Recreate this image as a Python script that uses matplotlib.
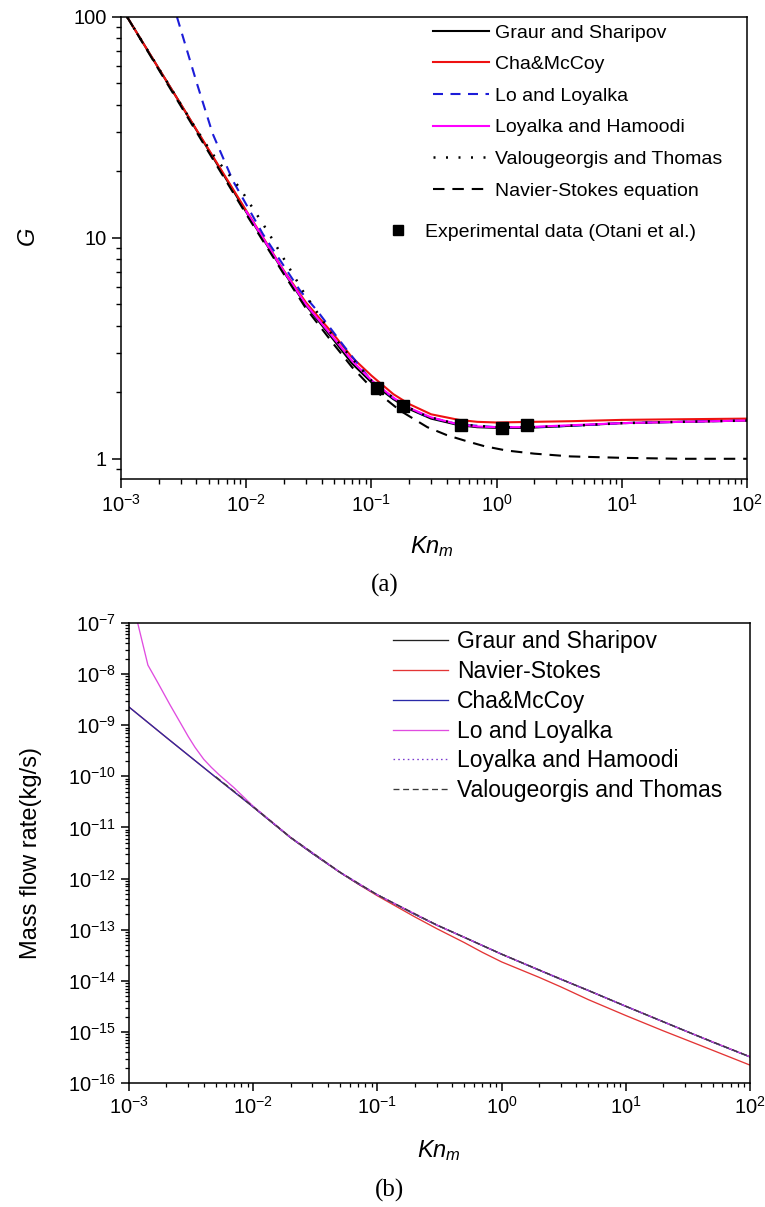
import numpy as np
import matplotlib.pyplot as plt
from matplotlib.ticker import LogLocator, NullFormatter, FixedLocator, FixedFormatter
from matplotlib.lines import Line2D

plt.rcParams['font.family'] = ['Liberation Sans', 'DejaVu Sans']
plt.rcParams['mathtext.fontset'] = 'custom'
plt.rcParams['mathtext.rm'] = 'Liberation Sans'
plt.rcParams['mathtext.it'] = 'Liberation Sans:italic'
plt.rcParams['mathtext.default'] = 'regular'
plt.rcParams['axes.unicode_minus'] = False

# ---- (a) G vs Kn_m ----
kn_gs = [1.12e-3, 2e-3, 3e-3, 5e-3, 0.01, 0.02, 0.03, 0.05, 0.07, 0.1, 0.15, 0.2, 0.3, 0.5, 0.7, 1, 1.7, 3, 10, 30, 100]
G_gs = [100, 58.5, 40.3, 25.0, 13.1, 7.0, 4.95, 3.45, 2.7, 2.22, 1.86, 1.68, 1.52, 1.42, 1.39, 1.38, 1.38, 1.40, 1.45, 1.47, 1.49]

kn_cm = [1.12e-3, 2e-3, 3e-3, 5e-3, 0.01, 0.02, 0.03, 0.05, 0.07, 0.1, 0.15, 0.2, 0.3, 0.5, 0.7, 1, 2, 4, 10, 30, 100]
G_cm = [100, 58.5, 40.3, 25.2, 13.3, 7.1, 5.1, 3.65, 2.88, 2.38, 1.96, 1.77, 1.59, 1.50, 1.47, 1.46, 1.47, 1.48, 1.50, 1.51, 1.52]

kn_ll = [2.8e-3, 4.05e-3, 5.4e-3, 7.85e-3, 0.0136, 0.027, 0.037, 0.06, 0.1, 0.17, 0.28, 0.5, 1, 2, 5, 10, 30, 100]
G_ll = [100, 49.8, 29.6, 18.1, 10.4, 5.76, 4.67, 3.25, 2.25, 1.78, 1.55, 1.43, 1.39, 1.39, 1.42, 1.45, 1.47, 1.49]

kn_lh = [0.01, 0.02, 0.03, 0.05, 0.07, 0.1, 0.15, 0.2, 0.3, 0.5, 0.7, 1, 1.7, 3, 10, 30, 100]
G_lh = [13.2, 7.05, 5.0, 3.52, 2.78, 2.27, 1.89, 1.70, 1.54, 1.43, 1.40, 1.39, 1.39, 1.41, 1.45, 1.47, 1.49]

kn_vt = [1.12e-3, 2e-3, 3e-3, 4e-3, 5.3e-3, 6.2e-3, 8.9e-3, 0.0147, 0.0283, 0.05, 0.1, 0.17, 0.28, 0.5, 1, 2, 5, 10, 30, 100]
G_vt = [100, 58.5, 40.3, 31, 24.3, 21.6, 16.8, 10.8, 5.76, 3.55, 2.26, 1.78, 1.55, 1.43, 1.39, 1.39, 1.42, 1.45, 1.47, 1.49]

kn_ns = [1.12e-3, 2e-3, 3e-3, 5e-3, 0.01, 0.02, 0.03, 0.05, 0.07, 0.1, 0.17, 0.28, 0.4, 0.58, 0.8, 1.2, 2, 3.9, 10, 30, 100]
G_ns = [100, 57.8, 39.6, 24.5, 12.8, 6.85, 4.8, 3.3, 2.6, 2.1, 1.65, 1.39, 1.28, 1.2, 1.14, 1.09, 1.055, 1.025, 1.01, 1.0, 1.0]

kn_exp = [0.111, 0.179, 0.52, 1.10, 1.75]
G_exp = [2.1, 1.74, 1.42, 1.38, 1.42]

# ---- (b) mass flow rate vs Kn_m ----
kn_b = [1e-3, 2e-3, 5e-3, 0.01, 0.02, 0.03, 0.05, 0.07, 0.1, 0.2, 0.3, 0.5, 0.7, 1, 2, 3, 5, 10, 20, 50, 100]
m_cm = [2.27e-9, 5.75e-10, 9.55e-11, 2.51e-11, 6.31e-12, 3.1e-12, 1.32e-12, 7.9e-13, 4.79e-13, 2.0e-13,
        1.23e-13, 7.08e-14, 4.9e-14, 3.31e-14, 1.62e-14, 1.07e-14, 6.46e-15, 3.16e-15, 1.58e-15, 6.31e-16, 3.24e-16]
m_ns = [2.27e-9, 5.75e-10, 9.55e-11, 2.51e-11, 6.31e-12, 3.1e-12, 1.32e-12, 7.8e-13, 4.6e-13, 1.78e-13,
        1.05e-13, 5.6e-14, 3.6e-14, 2.34e-14, 1.17e-14, 7.6e-15, 4.27e-15, 2.09e-15, 1.05e-15, 4.37e-16, 2.24e-16]

kn_gs_b = [0.01, 0.02, 0.03, 0.05, 0.07, 0.1, 0.2, 0.3, 0.5, 0.7, 1, 2, 3, 5, 10, 20, 50, 100]
m_gs = [2.51e-11, 6.31e-12, 3.1e-12, 1.32e-12, 7.9e-13, 4.8e-13, 2.0e-13, 1.23e-13, 7.1e-14, 4.9e-14,
        3.31e-14, 1.62e-14, 1.07e-14, 6.46e-15, 3.16e-15, 1.58e-15, 6.31e-16, 3.24e-16]

kn_lo = [1e-3, 1.42e-3, 1.7e-3, 2.14e-3, 2.6e-3, 3.0e-3, 3.4e-3, 4e-3, 4.6e-3, 5.3e-3, 7e-3, 0.01, 0.02, 0.05,
         0.1, 0.3, 1, 3, 10, 30, 100]
m_lo = [5e-7, 1.5e-8, 6.9e-9, 2.5e-9, 1.1e-9, 6.0e-10, 3.7e-10, 2.15e-10, 1.5e-10, 1.08e-10, 6.0e-11, 2.6e-11,
        6.4e-12, 1.33e-12, 4.8e-13, 1.24e-13, 3.32e-14, 1.08e-14, 3.18e-15, 1.05e-15, 3.26e-16]

kn_lh_b = [6e-3, 0.01, 0.02, 0.05, 0.1, 0.3, 1, 3, 10, 30, 100]
m_lh = [6.8e-11, 2.55e-11, 6.4e-12, 1.33e-12, 4.8e-13, 1.24e-13, 3.32e-14, 1.08e-14, 3.18e-15, 1.05e-15, 3.26e-16]

kn_vt_b = [5e-3, 0.01, 0.02, 0.05, 0.1, 0.3, 1, 3, 10, 30, 100]
m_vt = [9.8e-11, 2.55e-11, 6.4e-12, 1.33e-12, 4.8e-13, 1.24e-13, 3.32e-14, 1.08e-14, 3.18e-15, 1.05e-15, 3.26e-16]

fig = plt.figure(figsize=(7.65, 12.07), dpi=100)

# ================= panel (a) =================
ax1 = fig.add_axes([121/765, 1-479/1207, 626/765, 462/1207])
lw = 1.5
ax1.plot(kn_gs, G_gs, color='black', lw=lw, label='Graur and Sharipov')
ax1.plot(kn_cm, G_cm, color='#ee1111', lw=lw, label='Cha&McCoy')
ax1.plot(kn_ll, G_ll, color='#1c1cd8', lw=lw, dashes=(4.8, 3.6), label='Lo and Loyalka')
ax1.plot(kn_lh, G_lh, color='#ff00ff', lw=lw, label='Loyalka and Hamoodi')
ax1.plot(kn_vt, G_vt, color='black', lw=lw + 0.3, dashes=(0.8, 4.2), label='Valougeorgis and Thomas')
ax1.plot(kn_ns, G_ns, color='black', lw=lw, dashes=(5.5, 3.8), label='Navier-Stokes equation')
ax1.plot(kn_exp, G_exp, 's', color='black', ms=8, label='Experimental data (Otani et al.)')

ax1.set_xscale('log')
ax1.set_yscale('log')
ax1.set_xlim(1e-3, 100)
ax1.set_ylim(0.81, 100)
ax1.yaxis.set_major_locator(FixedLocator([1, 10, 100]))
ax1.yaxis.set_major_formatter(FixedFormatter(['1', '10', '100']))
ax1.yaxis.set_minor_locator(LogLocator(base=10, subs=np.arange(2, 10), numticks=50))
ax1.yaxis.set_minor_formatter(NullFormatter())
ax1.xaxis.set_minor_locator(LogLocator(base=10, subs=np.arange(2, 10), numticks=50))
ax1.xaxis.set_minor_formatter(NullFormatter())
ax1.tick_params(which='major', direction='out', length=6.5, width=1.1, pad=4, labelsize=14.5)
ax1.tick_params(which='minor', direction='out', length=3.6, width=1.0)
for s in ax1.spines.values():
    s.set_linewidth(1.1)

ax1.set_xlabel(r'$\mathit{Kn}_{\mathit{m}}$', fontsize=17)
ax1.xaxis.set_label_coords(0.497, -0.12)
ax1.set_ylabel(r'$\mathit{G}$', fontsize=17)
ax1.yaxis.set_label_coords(-0.13, 0.524)

h, l = ax1.get_legend_handles_labels()
leg1 = ax1.legend(h[:6], l[:6], loc='upper left', bbox_to_anchor=(0.498, 0.985), frameon=False,
                  fontsize=14, handlelength=2.9, handletextpad=0.28, borderpad=0, borderaxespad=0,
                  labelspacing=0.72)
ax1.add_artist(leg1)
ax1.legend([Line2D([], [], ls='none', marker='s', color='black', ms=7)], [l[6]], loc='upper left',
           bbox_to_anchor=(0.427, 0.553), frameon=False, fontsize=14, handlelength=1.0,
           handletextpad=0.9, borderpad=0, borderaxespad=0)

fig.text(385/765, 1-585/1207, '(a)', family='Liberation Serif', fontsize=18, ha='center', va='center')

# ================= panel (b) =================
ax2 = fig.add_axes([129/765, 1-1083/1207, 621/765, 460/1207])
lw2 = 0.95
ax2.plot(kn_gs_b, m_gs, color='#222222', lw=lw2, label='Graur and Sharipov')
ax2.plot(kn_b, m_ns, color='#e33535', lw=lw2, label='Navier-Stokes')
ax2.plot(kn_b, m_cm, color='#2a2aa8', lw=lw2, label='Cha&McCoy')
ax2.plot(kn_lo, m_lo, color='#e04ce0', lw=lw2, label='Lo and Loyalka')
ax2.plot(kn_lh_b, m_lh, color='#7a3ad0', lw=lw2, dashes=(1.2, 2.4), label='Loyalka and Hamoodi')
ax2.plot(kn_vt_b, m_vt, color='#3a3a3a', lw=lw2, dashes=(4.5, 2.8), label='Valougeorgis and Thomas')

ax2.set_xscale('log')
ax2.set_yscale('log')
ax2.set_xlim(1e-3, 100)
ax2.set_ylim(1e-16, 1e-7)
ax2.yaxis.set_major_locator(LogLocator(base=10, numticks=20))
ax2.yaxis.set_minor_locator(LogLocator(base=10, subs=np.arange(2, 10), numticks=200))
ax2.yaxis.set_minor_formatter(NullFormatter())
ax2.xaxis.set_minor_locator(LogLocator(base=10, subs=np.arange(2, 10), numticks=50))
ax2.xaxis.set_minor_formatter(NullFormatter())
ax2.tick_params(which='major', direction='out', length=5.5, width=1.1, labelsize=14.5, pad=4)
ax2.tick_params(which='minor', direction='out', length=3.0, width=0.9)
for s in ax2.spines.values():
    s.set_linewidth(1.1)

ax2.set_xlabel(r'$\mathit{Kn}_{\mathit{m}}$', fontsize=17)
ax2.xaxis.set_label_coords(0.499, -0.12)
ax2.set_ylabel('Mass flow rate(kg/s)', fontsize=17)
ax2.yaxis.set_label_coords(-0.14, 0.5)

ax2.legend(loc='upper left', bbox_to_anchor=(0.425, 0.985), frameon=False, fontsize=16.5,
           handlelength=2.4, handletextpad=0.4, borderpad=0, borderaxespad=0, labelspacing=0.3)

fig.text(390/765, 1-1190/1207, '(b)', family='Liberation Serif', fontsize=18, ha='center', va='center')

fig.savefig('out.png', dpi=100)
